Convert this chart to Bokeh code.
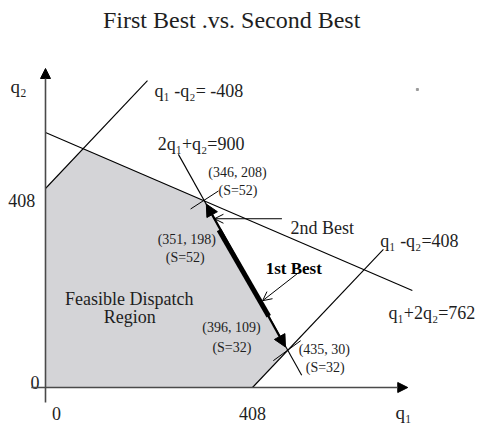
from bokeh.plotting import figure
from bokeh.models import Range1d, Arrow, NormalHead, OpenHead
from bokeh.core.properties import value
from bokeh.embed import file_html
from bokeh.resources import INLINE

# ---- data (schematic diagram coordinates in q1/q2 units) ----
title_text = "First Best .vs. Second Best"

# feasible dispatch region (polygon vertices)
region_q1 = [0, 0, 74, 313, 477, 408]
region_q2 = [0, 408, 490, 383, 76, 0]

# constraint lines (segment end points)
line_q1_a = [0, 0, 262, 408]
line_q2_a = [408, 523, 478, 0]
line_q1_b = [201, 723, 505, 666]
line_q2_b = [629, 199, 25, 283]

# leader lines to the corner labels
lead_q1_a = [286, 449]
lead_q2_a = [366, 55]
lead_q1_b = [341, 503]
lead_q2_b = [403, 96]

# axes
axis_q1_min, axis_q1_max = -28, 714
axis_q2_min, axis_q2_max = -31, 654

# tick labels
tick_q1_vals = [0, 408]
tick_q1_text = ["0", "408"]
tick_q2_vals = [0, 408]
tick_q2_text = ["0", "408"]

# dispatch move (1st best -> 2nd best)
move_q1 = [317, 473]
move_q2 = [376, 83]
move_thick_q1 = [342, 440]
move_thick_q2 = [323, 146]

# pointer arrows for "2nd Best" and "1st Best"
ptr_q1_a = [466, 497]
ptr_q2_a = [346, 234]
ptr_q1_b = [333, 428]
ptr_q2_b = [346, 178]

# point annotations
pt_text = ["(346, 208)", "(S=52)", "(351, 198)", "(S=52)", "(396, 109)", "(S=32)", "(435, 30)", "(S=32)"]
pt_q1 = [321, 341, 221, 237, 309, 329, 499, 513]
pt_q2 = [441, 404, 303, 267, 123, 82, 78, 41]

# larger labels
lab_text = ["q\u2081 -q\u2082= -408", "2q\u2081+q\u2082=900", "2nd Best", "q\u2081 -q\u2082=408", "q\u2081+2q\u2082=762"]
lab_q1 = [215, 221, 483, 660, 676]
lab_q2 = [607, 500, 328, 301, 152]

region_text = ["Feasible Dispatch", "Region"]
region_lab_q1 = [165, 166]
region_lab_q2 = [182, 144]

# ---- figure ----
# page px -> q units: q1 = (px-45)*408/207 ; q2 = (387-py)*408/199
W, H = 477, 423
kx = 408 / 207
ky = 408 / 199
x0 = (0 - 45) * kx
x1 = (W - 45) * kx
y0 = (387 - H) * ky
y1 = (387 - 0) * ky

p = figure(width=W, height=H, x_range=Range1d(x0, x1), y_range=Range1d(y0, y1),
           output_backend="svg", toolbar_location=None, min_border=0,
           x_axis_location=None, y_axis_location=None)
p.grid.visible = False
p.outline_line_color = None
p.background_fill_color = "white"
p.border_fill_color = "white"

FONT = value("Liberation Serif")
INK = "#1e1e1e"

# region
p.patch(region_q1, region_q2, fill_color="#d4d4d7", line_color=None)

# constraint lines
p.segment(x0=line_q1_a, y0=line_q2_a, x1=line_q1_b, y1=line_q2_b, line_color="black", line_width=1.1)
p.segment(x0=lead_q1_a, y0=lead_q2_a, x1=lead_q1_b, y1=lead_q2_b, line_color="black", line_width=1)

# axes with arrow heads
axis_col = "#4a4a4a"
p.add_layout(Arrow(end=NormalHead(size=10, fill_color="black", line_color="black"),
                   x_start=axis_q1_min, y_start=0, x_end=axis_q1_max, y_end=0,
                   line_color=axis_col, line_width=1.6))
p.add_layout(Arrow(end=NormalHead(size=10, fill_color="black", line_color="black"),
                   x_start=0, y_start=axis_q2_min, x_end=0, y_end=axis_q2_max,
                   line_color=axis_col, line_width=1.6))

# dispatch move arrows
p.add_layout(Arrow(start=NormalHead(size=12, fill_color="black", line_color="black"),
                   end=NormalHead(size=12, fill_color="black", line_color="black"),
                   x_start=move_q1[0], y_start=move_q2[0], x_end=move_q1[1], y_end=move_q2[1],
                   line_color="black", line_width=2.2))
p.segment(x0=[move_thick_q1[0]], y0=[move_thick_q2[0]], x1=[move_thick_q1[1]], y1=[move_thick_q2[1]],
          line_color="black", line_width=5)

# pointer arrows
for i in range(len(ptr_q1_a)):
    p.add_layout(Arrow(end=OpenHead(size=9, line_color="black", line_width=1),
                       x_start=ptr_q1_a[i], y_start=ptr_q2_a[i], x_end=ptr_q1_b[i], y_end=ptr_q2_b[i],
                       line_color="black", line_width=1))

# tiny speck
p.scatter([733], [611], size=2, marker="square", color="#9a9a9a")

# texts
p.text(x=[367], y=[754], text=[title_text],
       text_font=FONT, text_font_size=value("24px"), text_color=INK,
       text_align="center", text_baseline="alphabetic")

p.text(x=tick_q1_vals, y=[-53, -53], text=tick_q1_text, text_font=FONT, text_font_size=value("18px"),
       text_color=INK, text_align="center", text_baseline="alphabetic", x_offset=[11, 0])
p.text(x=[-12, -20], y=[10, 383], text=tick_q2_text, text_font=FONT, text_font_size=value("18px"),
       text_color=INK, text_align="right", text_baseline="alphabetic")

p.text(x=[-69], y=[617], text=["q\u2082"], text_font=FONT, text_font_size=value("19px"),
       text_color=INK, text_align="left", text_baseline="alphabetic")
p.text(x=[690], y=[-51], text=["q\u2081"], text_font=FONT, text_font_size=value("19px"),
       text_color=INK, text_align="left", text_baseline="alphabetic")

p.text(x=lab_q1, y=lab_q2, text=lab_text, text_font=FONT, text_font_size=value("18px"),
       text_color=INK, text_align="left", text_baseline="alphabetic")
p.text(x=[434], y=[244], text=["1st Best"], text_font=FONT, text_font_size=value("17px"),
       text_font_style="bold", text_color="black", text_align="left", text_baseline="alphabetic")
p.text(x=region_lab_q1, y=region_lab_q2, text=region_text, text_font=FONT, text_font_size=value("18px"),
       text_color=INK, text_align="center", text_baseline="alphabetic")
p.text(x=pt_q1, y=pt_q2, text=pt_text, text_font=FONT, text_font_size=value("14px"),
       text_color=INK, text_align="left", text_baseline="alphabetic")

open("out.html", "w").write(file_html(p, INLINE))
